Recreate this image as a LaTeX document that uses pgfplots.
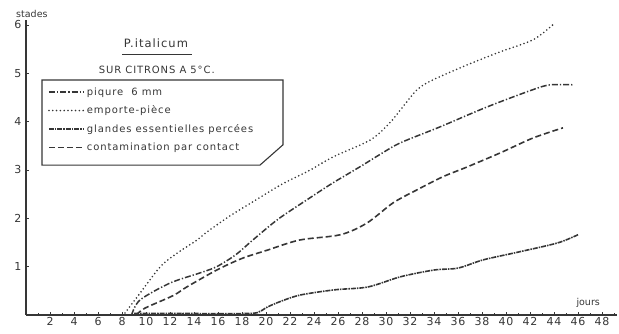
\documentclass[border=0pt]{standalone}
\usepackage{pgfplots}
\pgfplotsset{compat=1.18}
\usepackage{fontspec}
\setmainfont{DejaVu Sans}
\newfontfamily\wide[LetterSpace=9]{DejaVu Sans}
\definecolor{ink}{HTML}{363636}

\begin{document}
\begin{tikzpicture}[x=1pt,y=1pt]
\useasboundingbox (0,0) rectangle (619,334);
\begin{axis}[
  at={(26pt,19pt)}, anchor=south west,
  scale only axis, width=591pt, height=295pt,
  xmin=0, xmax=49.25, ymin=0, ymax=6.1,
  axis x line=bottom, axis y line=left,
  axis line style={-, ink, line width=1.3pt},
  xtick={2,4,...,48}, ytick={1,2,...,6},
  minor xtick={1,...,49},
  major tick length=3pt, minor tick length=2pt,
  tick style={ink, line width=0.6pt},
  tick align=inside,
  /pgf/number format/assume math mode=true,
  ticklabel style={font=\wide\fontsize{11}{12}\selectfont, text=ink},
  xticklabel style={yshift=1pt},
  yticklabel style={xshift=-1pt},
  clip=false,
  legend cell align=left,
  legend style={draw=none, fill=none, at={(rel axis cs:0.037,0.778)}, anchor=north west,
    font=\wide\fontsize{10}{11}\selectfont, text=ink, row sep=5pt, inner sep=0pt},
  legend image code/.code={\draw[#1] (0pt,0pt) -- (35pt,0pt);},
]
% piqure 6 mm
\addplot[ink, line width=1.5pt, dash pattern=on 6pt off 2pt on 1.3pt off 2pt, smooth, tension=0.5] coordinates {
 (8.8,0) (9.5,0.31) (12,0.66) (14.5,0.87) (15.9,1.0) (17.5,1.25) (18.9,1.55) (21,1.98) (23.4,2.38)
 (25.5,2.72) (27.8,3.06) (29.5,3.32) (31.2,3.56) (34.5,3.89) (38.4,4.3) (42.25,4.66) (43.7,4.76) (45.6,4.76)};
\addlegendentry{piqure\ \ 6 mm}
% emporte-piece
\addplot[ink, line width=1.8pt, line cap=round, dash pattern=on 0pt off 3.8pt, smooth, tension=0.5] coordinates {
 (8.25,0.04) (9.5,0.45) (11.2,1.0) (12.6,1.28) (14.25,1.55) (15.1,1.72) (17,2.05) (18.9,2.34) (21.3,2.7) (23.7,3.0)
 (25.6,3.27) (28.7,3.62) (30.3,3.97) (31.2,4.24) (32.6,4.66) (33.9,4.86) (36.75,5.17) (39.5,5.44) (42.25,5.69) (43.9,6.0)};
\addlegendentry{emporte-pièce}
% glandes essentielles percees
\addplot[ink, line width=1.6pt, dash pattern=on 5pt off 1pt on 1.5pt off 1pt, smooth, tension=0.5] coordinates {
 (9,0.03) (14,0.03) (18,0.03) (19.3,0.05) (20,0.15) (21,0.26) (22.8,0.41) (25.7,0.52) (28.5,0.58) (31.2,0.79) (34,0.93) (36,0.97)
 (38.1,1.14) (41,1.3) (44.3,1.49) (46,1.66)};
\addlegendentry{glandes essentielles percées}
% contamination par contact
\addplot[ink, line width=1.6pt, dash pattern=on 6pt off 3pt, smooth, tension=0.5] coordinates {
 (9.2,0) (9.9,0.14) (12.25,0.4) (13.4,0.58) (15.9,0.93) (18,1.17) (20.1,1.34) (22.8,1.55) (26.2,1.66) (28.4,1.9)
 (30.6,2.32) (32.6,2.59) (34.75,2.86) (36.75,3.06) (39.5,3.35) (42.25,3.66) (44.75,3.87)};
\addlegendentry{contamination par contact}

% legend frame with its clipped corner
\draw[ink, line width=1.1pt] (axis cs:1.33,3.10) -- (axis cs:1.33,4.86) -- (axis cs:21.42,4.86)
   -- (axis cs:21.42,3.52) -- (axis cs:19.5,3.10) -- cycle;
% heading
\node[text=ink, font=\wide\fontsize{11.5}{13}\selectfont] at (axis cs:10.83,5.63) {P.italicum};
\draw[ink, line width=1pt] (axis cs:8,5.38) -- (axis cs:13.83,5.38);
\node[text=ink, font=\wide\fontsize{10}{11}\selectfont] at (axis cs:10.9,5.07) {SUR CITRONS A 5°C.};
% axis names
\node[text=ink, font=\fontsize{9.5}{11}\selectfont] at (rel axis cs:0.01,1.022) {stades};
\node[text=ink, font=\fontsize{9.5}{11}\selectfont] at (axis cs:46.85,0.26) {jours};
\end{axis}
\end{tikzpicture}
\end{document}
